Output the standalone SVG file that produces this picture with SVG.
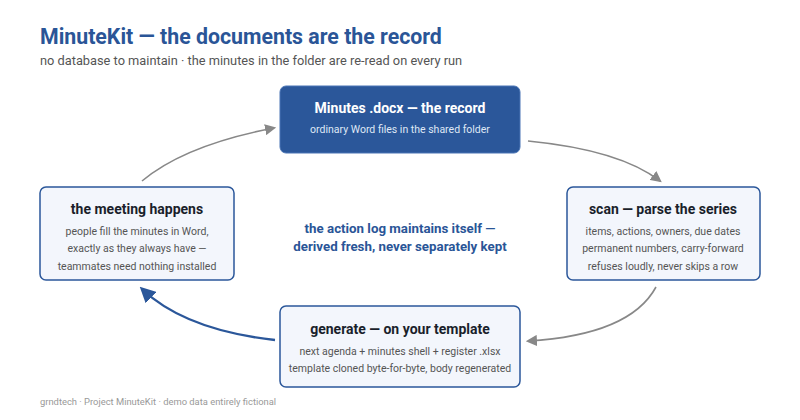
<svg xmlns="http://www.w3.org/2000/svg" width="800" height="420" viewBox="0 0 800 420">
<style>
text{font-family:Roboto,"Liberation Sans",Arial,sans-serif}
.box{fill:#f3f6fc;stroke:#2b579a;stroke-width:1.5}
.t{font-size:14px;font-weight:bold;fill:#1a1f2b;text-anchor:middle}
.s{font-size:10.5px;fill:#555;text-anchor:middle}
.g{fill:none;stroke:#888;stroke-width:1.6}
</style>
<defs>
<marker id="ag" viewBox="0 0 10 10" refX="8" refY="5" markerWidth="7" markerHeight="7" orient="auto"><path d="M0,0L10,5L0,10z" fill="#888"/></marker>
<marker id="ab" viewBox="0 0 10 10" refX="8" refY="5" markerWidth="6.5" markerHeight="6.5" orient="auto"><path d="M0,0L10,5L0,10z" fill="#2b579a"/></marker>
</defs>
<rect width="800" height="420" fill="#fff"/>
<text x="40" y="44" font-size="21.3" font-weight="bold" fill="#2a5597">MinuteKit — the documents are the record</text>
<text x="40" y="65" font-size="12.8" fill="#555">no database to maintain · the minutes in the folder are re-read on every run</text>
<g id="connectors">
<path class="g" d="M142,181 Q185,145 274,128" marker-end="url(#ag)"/>
<path class="g" d="M528,141 Q620,150 660,181" marker-end="url(#ag)"/>
<path class="g" d="M656,287 Q630,335 528,341" marker-end="url(#ag)"/>
<path d="M275,340 Q185,330 142,289" fill="none" stroke="#2b579a" stroke-width="2.4" marker-end="url(#ab)"/>
</g>
<g id="record">
<rect x="280" y="86" width="240" height="67" rx="6" fill="#2b579a" stroke="#4a75b5"/>
<text x="400" y="113" class="t" style="fill:#fff">Minutes .docx — the record</text>
<text x="400" y="133" class="s" style="fill:#dfe7f5">ordinary Word files in the shared folder</text>
</g>
<g id="meeting">
<rect class="box" x="40" y="187" width="194" height="93" rx="6"/>
<text x="137" y="214" class="t">the meeting happens</text>
<text x="137" y="235" class="s">people fill the minutes in Word,</text>
<text x="137" y="252" class="s">exactly as they always have —</text>
<text x="137" y="270" class="s">teammates need nothing installed</text>
</g>
<g id="scan">
<rect class="box" x="567" y="187" width="193" height="93" rx="6"/>
<text x="663" y="214" class="t">scan — parse the series</text>
<text x="663" y="235" class="s">items, actions, owners, due dates</text>
<text x="663" y="252" class="s">permanent numbers, carry-forward</text>
<text x="663" y="270" class="s">refuses loudly, never skips a row</text>
</g>
<g id="generate">
<rect class="box" x="280" y="306" width="240" height="81" rx="6"/>
<text x="400" y="334" class="t">generate — on your template</text>
<text x="400" y="355" class="s">next agenda + minutes shell + register .xlsx</text>
<text x="400" y="372" class="s">template cloned byte-for-byte, body regenerated</text>
</g>
<g id="note">
<text x="400" y="233" font-size="13.3" font-weight="bold" fill="#2a5597" text-anchor="middle">the action log maintains itself —</text>
<text x="400" y="251" font-size="13.3" font-weight="bold" fill="#2a5597" text-anchor="middle">derived fresh, never separately kept</text>
</g>
<text x="40" y="405" font-size="9.4" fill="#999">grndtech · Project MinuteKit · demo data entirely fictional</text>
</svg>
